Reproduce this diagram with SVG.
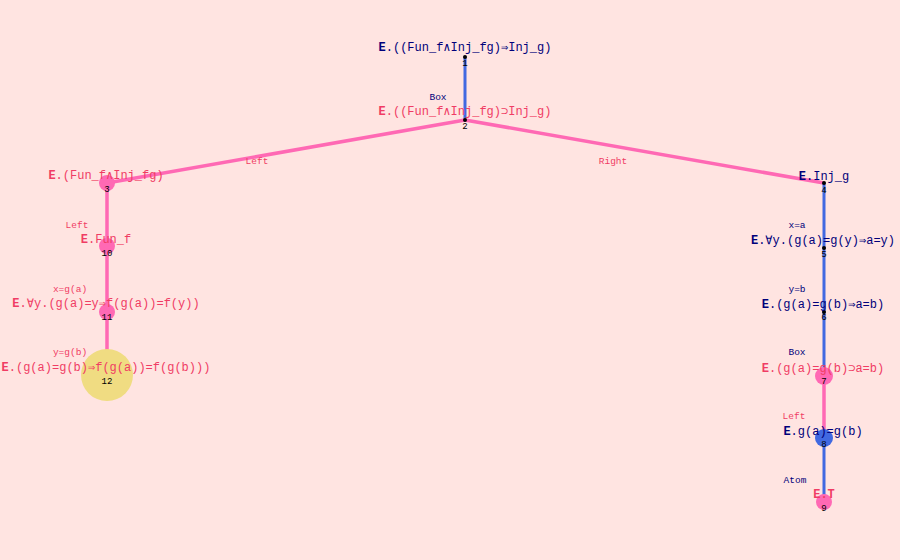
<svg xmlns="http://www.w3.org/2000/svg" width="900" height="560" viewBox="0 0 900 560">
<style>
text{font-family:"Liberation Mono","DejaVu Sans Mono",monospace;text-anchor:middle}
.t{font-size:12px}
.r{fill:#f03c64}
.b{fill:#00007a}
.s{font-size:9.5px}
.n{font-size:9px;fill:#000}
.pe{stroke:#ff69b4;stroke-width:3.5;fill:none}
.be{stroke:#4169e1;stroke-width:3;fill:none}
.pk{fill:#ff69b4}
.bl{fill:#4169e1}
.dot{fill:#000}
</style>
<rect width="900" height="560" fill="#ffe4e1"/>
<g id="edges">
<line class="be" x1="465" y1="57" x2="465" y2="120"/>
<line class="pe" x1="465" y1="120" x2="107" y2="183"/>
<line class="pe" x1="465" y1="120" x2="824" y2="183"/>
<line class="pe" x1="107" y1="183" x2="107" y2="246"/>
<line class="pe" x1="107" y1="246" x2="107" y2="312"/>
<line class="pe" x1="107" y1="312" x2="107" y2="375"/>
<line class="be" x1="824" y1="183" x2="824" y2="248"/>
<line class="be" x1="824" y1="248" x2="824" y2="312"/>
<line class="be" x1="824" y1="312" x2="824" y2="376"/>
<line class="pe" x1="824" y1="376" x2="824" y2="438"/>
<line class="be" x1="824" y1="438" x2="824" y2="502"/>
<text class="s r" x="257" y="164">Left</text>
<text class="s r" x="613" y="164">Right</text>
</g>
<g id="n1"><circle class="dot" cx="465" cy="57" r="2"/><text class="t b" x="465" y="51"><tspan font-weight="bold">E</tspan>.((Fun_f∧Inj_fg)⇒Inj_g)</text><text class="n" x="465" y="66">1</text></g>
<g id="n2"><circle class="dot" cx="465" cy="120" r="2"/><text class="s b" x="438" y="100">Box</text><text class="t r" x="465" y="115"><tspan font-weight="bold">E</tspan>.((Fun_f∧Inj_fg)⊃Inj_g)</text><text class="n" x="465" y="129">2</text></g>
<g id="n3"><circle class="pk" cx="107" cy="183" r="8"/><text class="t r" x="106" y="179"><tspan font-weight="bold">E</tspan>.(Fun_f∧Inj_fg)</text><text class="n" x="107" y="192">3</text></g>
<g id="n10"><circle class="pk" cx="107" cy="246" r="8"/><text class="s r" x="77" y="228">Left</text><text class="t r" x="106" y="243"><tspan font-weight="bold">E</tspan>.Fun_f</text><text class="n" x="107" y="256">10</text></g>
<g id="n11"><circle class="pk" cx="107" cy="312" r="8"/><text class="s r" x="70" y="292">x=g(a)</text><text class="t r" x="106" y="307"><tspan font-weight="bold">E</tspan>.∀y.(g(a)=y⇒f(g(a))=f(y))</text><text class="n" x="107" y="320">11</text></g>
<g id="n12"><circle fill="#f0dc82" cx="107" cy="375" r="26"/><text class="s r" x="70" y="355">y=g(b)</text><text class="t r" x="106" y="371"><tspan font-weight="bold">E</tspan>.(g(a)=g(b)⇒f(g(a))=f(g(b)))</text><text class="n" x="107" y="384">12</text></g>
<g id="n4"><circle class="dot" cx="824" cy="183" r="2"/><text class="t b" x="824" y="180"><tspan font-weight="bold">E</tspan>.Inj_g</text><text class="n" x="824" y="193">4</text></g>
<g id="n5"><circle class="dot" cx="824" cy="248" r="2"/><text class="s b" x="797" y="228">x=a</text><text class="t b" x="823" y="244"><tspan font-weight="bold">E</tspan>.∀y.(g(a)=g(y)⇒a=y)</text><text class="n" x="824" y="257">5</text></g>
<g id="n6"><circle class="dot" cx="824" cy="312" r="2"/><text class="s b" x="797" y="292">y=b</text><text class="t b" x="823" y="308"><tspan font-weight="bold">E</tspan>.(g(a)=g(b)⇒a=b)</text><text class="n" x="824" y="320">6</text></g>
<g id="n7"><circle class="pk" cx="824" cy="376" r="9"/><text class="s b" x="797" y="355">Box</text><text class="t r" x="823" y="372"><tspan font-weight="bold">E</tspan>.(g(a)=g(b)⊃a=b)</text><text class="n" x="824" y="384">7</text></g>
<g id="n8"><circle class="bl" cx="824" cy="438" r="9"/><text class="s r" x="794" y="419">Left</text><text class="t b" x="823" y="435"><tspan font-weight="bold">E</tspan>.g(a)=g(b)</text><text class="n" x="824" y="447">8</text></g>
<g id="n9"><circle class="pk" cx="824" cy="502" r="8"/><text class="s b" x="795" y="483">Atom</text><text class="t r" x="824" y="498" font-weight="bold">E.T</text><text class="n" x="824" y="511">9</text></g>
</svg>
